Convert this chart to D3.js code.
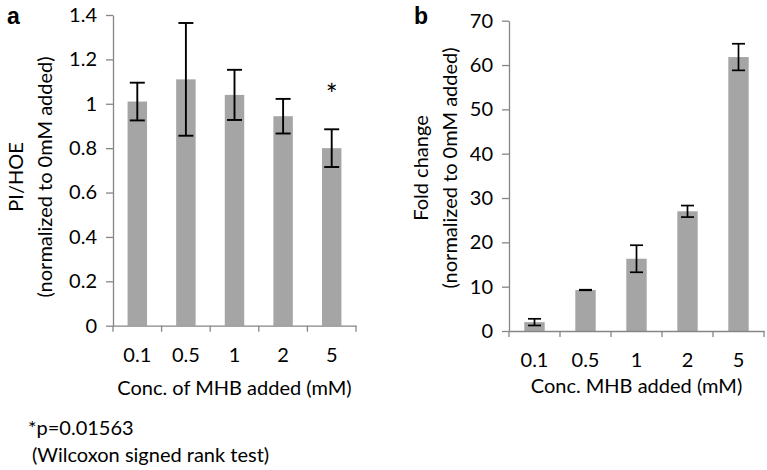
<!DOCTYPE html>
<html>
<head>
<meta charset="utf-8">
<script src="https://cdn.jsdelivr.net/npm/d3@7/dist/d3.min.js"></script>
<style>
  body { margin: 0; background: #fff; }
  svg text { font-family: Lato, "Open Sans", sans-serif; fill: #000; }
</style>
</head>
<body>
<svg id="chart" width="767" height="470"></svg>
<script>
// categories (MHB concentration, mM)
var concLabels = ["0.1", "0.5", "1", "2", "5"];

// panel a : PI/HOE, normalized to 0mM
var piHoeMeans = [1.01, 1.11, 1.04, 0.944, 0.80];
var piHoeErr   = [0.085, 0.254, 0.113, 0.078, 0.085];
var piHoeTicks = [0, 0.2, 0.4, 0.6, 0.8, 1, 1.2, 1.4];
var piHoeStars = ["", "", "", "", "*"];

// panel b : fold change, normalized to 0mM
var foldMeans = [2.0, 9.25, 16.3, 27.0, 61.8];
var foldErr   = [0.75, 0.06, 3.05, 1.3, 3.0];
var foldTicks = [0, 10, 20, 30, 40, 50, 60, 70];

var svg = d3.select("#chart");
var axisColor = "#868686";
var barColor = "#a5a5a5";
var fs = 20;

function drawPanel(p){
    var x = d3.scaleBand().domain(concLabels).range([p.left, p.right])
        .paddingInner(0.6).paddingOuter(0.3);
    var y = d3.scaleLinear().domain([0, d3.max(p.ticks)]).range([p.bottom, p.top]);
    var g = svg.append("g");

    // bars
    g.selectAll("rect.bar").data(p.means).enter().append("rect")
        .attr("x", function(d, i){ return x(concLabels[i]); })
        .attr("width", x.bandwidth())
        .attr("y", function(d){ return y(d); })
        .attr("height", function(d){ return y(0) - y(d); })
        .attr("fill", barColor);

    // y axis
    var ya = g.append("g").attr("transform", "translate(" + p.left + ",0)")
        .call(d3.axisLeft(y).tickValues(p.ticks).tickSize(7).tickSizeOuter(0).tickPadding(9)
            .tickFormat(function(d){ return String(+d.toFixed(1)); }));
    ya.select(".domain").attr("stroke", axisColor).attr("stroke-width", 1.3);
    ya.selectAll(".tick line").attr("stroke", axisColor).attr("stroke-width", 1.3);
    ya.selectAll(".tick text").style("font-size", fs + "px").attr("fill", "#000");

    // x axis (ticks sit between categories, like excel)
    var xa = g.append("g").attr("transform", "translate(0," + p.bottom + ")")
        .call(d3.axisBottom(x).tickSize(0).tickSizeOuter(0).tickPadding(p.xPad));
    xa.select(".domain").attr("stroke", axisColor).attr("stroke-width", 1.3);
    xa.selectAll(".tick text").style("font-size", fs + "px").attr("fill", "#000");
    var half = x.step() * 0.3;
    var bounds = concLabels.map(function(c){ return x(c) - half; });
    bounds.push(x(concLabels[concLabels.length - 1]) + x.bandwidth() + half);
    xa.selectAll("line.sep").data(bounds).enter().append("line")
        .attr("x1", function(d){ return d; }).attr("x2", function(d){ return d; })
        .attr("y1", 0).attr("y2", 6)
        .attr("stroke", axisColor).attr("stroke-width", 1.3);

    // error bars
    var eb = g.selectAll("g.err").data(p.means).enter().append("g")
        .attr("stroke", "#000").attr("stroke-width", p.errW);
    eb.append("line")
        .attr("x1", function(d, i){ return x(concLabels[i]) + x.bandwidth() / 2; })
        .attr("x2", function(d, i){ return x(concLabels[i]) + x.bandwidth() / 2; })
        .attr("y1", function(d, i){ return y(d + p.err[i]); })
        .attr("y2", function(d, i){ return y(d - p.err[i]); });
    [1, -1].forEach(function(s){
        eb.append("line")
            .attr("x1", function(d, i){ return x(concLabels[i]) + x.bandwidth() / 2 - p.cap / 2; })
            .attr("x2", function(d, i){ return x(concLabels[i]) + x.bandwidth() / 2 + p.cap / 2; })
            .attr("y1", function(d, i){ return y(d + s * p.err[i]); })
            .attr("y2", function(d, i){ return y(d + s * p.err[i]); });
    });

    // significance marks
    if(p.stars){
        g.selectAll("text.star").data(p.stars).enter().append("text")
            .attr("x", function(d, i){ return x(concLabels[i]) + x.bandwidth() / 2; })
            .attr("y", function(d, i){ return y(p.means[i] + p.err[i]) - 24; })
            .attr("text-anchor", "middle").style("font-size", "28px")
            .text(function(d){ return d; });
    }

    // axis titles
    g.append("text").attr("x", (p.left + p.right) / 2).attr("y", p.xTitleY)
        .attr("text-anchor", "middle").style("font-size", fs + "px").text(p.xTitle);
    p.yTitle.forEach(function(t, k){
        g.append("text")
            .attr("transform", "translate(" + p.yTitleX[k] + "," + p.yTitleC + ") rotate(-90)")
            .attr("text-anchor", "middle").style("font-size", fs + "px").text(t);
    });

    // panel letter
    g.append("text").attr("x", p.letterX).attr("y", 24)
        .style("font-family", "'Liberation Sans', Arial, sans-serif")
        .style("font-weight", "bold").style("font-size", "23px").text(p.letter);
}

drawPanel({
    left: 113, right: 356, top: 15, bottom: 325.7,
    means: piHoeMeans, err: piHoeErr, ticks: piHoeTicks, stars: piHoeStars,
    cap: 15, errW: 1.9, xPad: 22,
    xTitle: "Conc. of MHB added (mM)", xTitleY: 395,
    yTitle: ["PI/HOE", "(normalized to 0mM added)"], yTitleX: [23, 52], yTitleC: 177,
    letter: "a", letterX: 7
});

drawPanel({
    left: 509, right: 764, top: 20.7, bottom: 331,
    means: foldMeans, err: foldErr, ticks: foldTicks, stars: null,
    cap: 13, errW: 1.7, xPad: 22,
    xTitle: "Conc. MHB added (mM)", xTitleY: 393,
    yTitle: ["Fold change", "(normalized to 0mM added)"], yTitleX: [428, 457], yTitleC: 168,
    letter: "b", letterX: 414
});

// footnote
svg.append("text").attr("x", 28).attr("y", 435).style("font-size", fs + "px").text("*p=0.01563");
svg.append("text").attr("x", 32).attr("y", 462).style("font-size", fs + "px").text("(Wilcoxon signed rank test)");
</script>
</body>
</html>
